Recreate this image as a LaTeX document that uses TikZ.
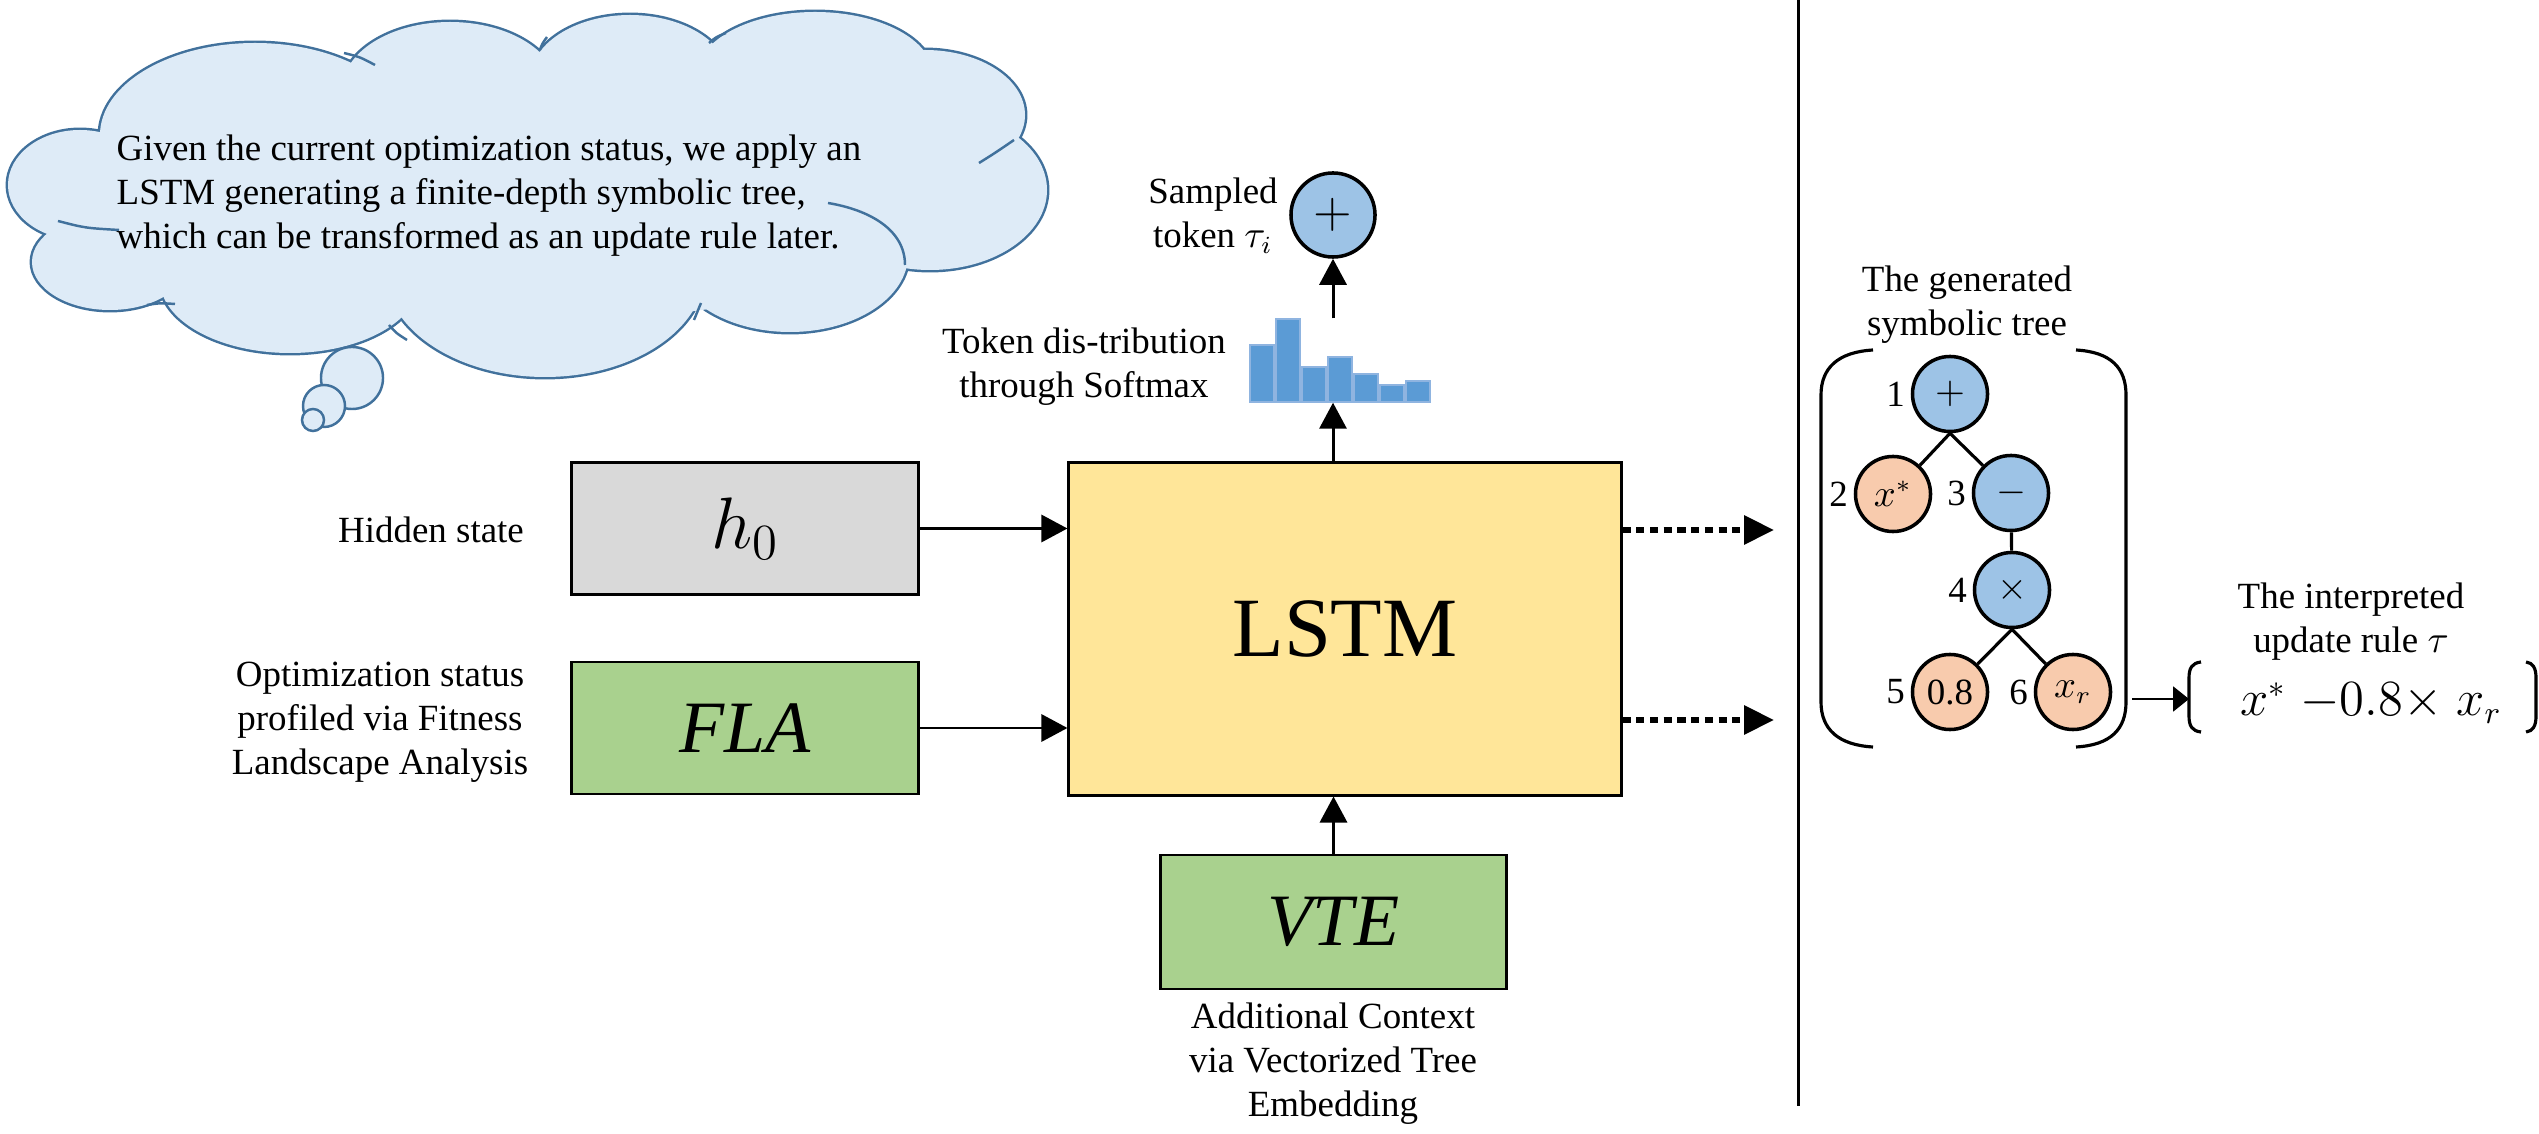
\documentclass[tikz,border=0pt]{standalone}
\usepackage{fontspec}
\setmainfont{Liberation Serif}
\usetikzlibrary{arrows.meta,calc}
\definecolor{cloudfill}{HTML}{DEEBF7}
\definecolor{cloudline}{HTML}{41719C}
\definecolor{grayfill}{HTML}{D9D9D9}
\definecolor{greenfill}{HTML}{A9D18E}
\definecolor{yellowfill}{HTML}{FFE699}
\definecolor{bluenode}{HTML}{9DC3E6}
\definecolor{orangenode}{HTML}{F8CBAD}
\definecolor{barfill}{HTML}{5B9BD5}
\definecolor{barline}{HTML}{8FB4E0}
\begin{document}
\begin{tikzpicture}[x=0.01cm,y=-0.01cm,
  lbl/.style={font=\fontsize{10.5pt}{12.5pt}\selectfont, align=center, inner sep=0},
  box/.style={draw=black, line width=0.8pt, inner sep=0, minimum width=3.46cm, minimum height=1.32cm},
  arr/.style={line width=0.85pt, -{Triangle[length=7.4pt,width=7.7pt]}},
  smallarr/.style={line width=0.85pt, -{Triangle[length=4.5pt,width=7pt]}},
  darr/.style={line width=1.5pt, dash pattern=on 2.3pt off 1.6pt, -{Triangle[length=8.5pt,width=8pt]}},
  tnode/.style={circle, draw=black, line width=1pt, minimum size=0.75cm, inner sep=0, font=\fontsize{10.5pt}{12pt}\selectfont},
  tblue/.style={tnode, fill=bluenode},
  torange/.style={tnode, fill=orangenode},
  nlab/.style={label={[lbl,label distance=1.5pt]left:#1}},
  paren/.style={line width=0.9pt},
  stub/.style={draw=cloudline, line width=0.7pt},
  bubble/.style={circle, draw=cloudline, fill=cloudfill, line width=0.7pt, inner sep=0}
]
\useasboundingbox (0,0) rectangle (2539,1134);

% thought cloud: union of puffs (thick outline, then fill on top)
\def\puffs{80/185/72/55, 110/262/78/48, 290/280/130/73, 545/270/160/107, 790/255/118/77,
  930/190/117/80, 925/115/100/65, 815/75/118/63, 630/80/100/65, 450/90/108/68, 255/135/155/92}
\foreach \px/\py/\rx/\ry in \puffs{
  \draw[cloudline, line width=1.4pt] (\px,\py) ellipse [x radius=\rx, y radius=\ry];
}
\foreach \px/\py/\rx/\ry in \puffs{
  \fill[cloudfill] (\px,\py) ellipse [x radius=\rx, y radius=\ry];
}
\fill[cloudfill] (540,190) ellipse [x radius=420, y radius=130];
\draw[stub] (58,221) .. controls (85,228) .. (119,230);
\draw[stub] (147,305) .. controls (160,303) .. (175,304);
\draw[stub] (389,325) .. controls (396,333) .. (407,340);
\draw[stub] (694,320) .. controls (698,312) .. (701,303);
\draw[stub] (905,265) .. controls (905,230) and (870,210) .. (828,203);
\draw[stub] (979,163) .. controls (995,153) .. (1014,140);
\draw[stub] (344,53) .. controls (360,57) .. (375,65);
\draw[stub] (540,50) .. controls (542,44) .. (547,37);
\draw[stub] (709,43) .. controls (716,37) .. (726,33);
\coordinate (cloud) at (540,190);
\node[bubble, minimum size=0.62cm] (b1) at (352,378) {};
\node[bubble, minimum size=0.42cm] (b2) at (324,406) {};
\node[bubble, minimum size=0.22cm] (b3) at (313,420) {};
\node[lbl, align=left, anchor=west] (ctext) at (116,196) {Given the current optimization status, we apply an\\LSTM generating a finite-depth symbolic tree,\\which can be transformed as an update rule later.};

% main boxes
\node[box, fill=grayfill] (h0) at (745,528.5) {\fontsize{22pt}{24pt}\selectfont $h_0$};
\node[box, fill=greenfill] (fla) at (745,728) {\fontsize{21pt}{24pt}\selectfont\itshape FLA};
\node[draw=black, line width=0.8pt, fill=yellowfill, minimum width=5.52cm, minimum height=3.32cm, inner sep=0,
      font=\fontsize{24pt}{28pt}\selectfont] (lstm) at (1345,629) {LSTM};
\node[box, fill=greenfill, minimum height=1.34cm] (vte) at (1333.5,922) {\fontsize{21pt}{24pt}\selectfont\itshape VTE};

% labels
\node[lbl] (hid) at (431,530) {Hidden state};
\node[lbl] (opt) at (380,722) {Optimization status\\profiled via Fitness\\Landscape Analysis};
\node[lbl, anchor=north] (add) at (1333,1002) {Additional Context\\via Vectorized Tree\\Embedding};
\node[lbl] (samp) at (1213,216) {Sampled\\token $\tau_i$};
\node[lbl] (tdist) at (1084,367) {Token dis-tribution\\through Softmax};

% arrows into LSTM
\draw[arr] (h0.east) -- (h0.east -| lstm.west);
\draw[arr] (fla.east) -- (fla.east -| lstm.west);
\draw[arr] (vte.north) -- (vte.north |- lstm.south);

% dotted outputs
\coordinate (d1) at (1774,530);
\coordinate (d2) at (1774,720);
\draw[darr] (lstm.east |- d1) -- (d1);
\draw[darr] (lstm.east |- d2) -- (d2);

% histogram
\node[inner sep=0, minimum width=1.82cm, minimum height=0.83cm] (hist) at (1340,360.5) {};
\foreach \i/\t in {0/345,1/319,2/367,3/357,4/374,5/385,6/381}{
  \draw[fill=barfill, draw=barline, line width=0.6pt] ({1250+26*\i},402) rectangle ({1274+26*\i},\t);
}
\node[circle, draw=black, line width=1pt, fill=bluenode, minimum size=0.84cm, inner sep=0,
      font=\fontsize{14pt}{14pt}\selectfont] (tok) at (1333,215) {$+$};
\draw[arr] (lstm.north -| tok) -- (hist.south -| tok);
\draw[arr] (hist.north -| tok) -- (tok.south);

% separator
\coordinate (vt) at (1798,0);
\coordinate (vb) at (1798,1106);
\draw[line width=0.85pt] (vt) -- (vb);

% tree
\node[lbl] (gen) at (1967,305) {The generated\\symbolic tree};
\node[tblue, nlab=1] (n1) at (1950,394) {$+$};
\node[torange, nlab=2] (n2) at (1893,494) {$x^{*}$};
\node[tblue, nlab=3] (n3) at (2011,493) {$-$};
\node[tblue, nlab=4] (n4) at (2012,590) {$\times$};
\node[torange, nlab=5] (n5) at (1950,692) {0.8};
\node[torange, nlab=6] (n6) at (2073,692) {$x_r$};
\draw[line width=0.9pt] (n1.south) -- (n2);
\draw[line width=0.9pt] (n1.south) -- (n3);
\draw[line width=0.9pt] (n3) -- (n4);
\draw[line width=0.9pt] (n4.south) -- (n5);
\draw[line width=0.9pt] (n4.south) -- (n6);

% parentheses around tree
\draw[paren] (1873,350) .. controls (1838,352) and (1821,368) .. (1821,395) -- (1821,702) .. controls (1821,729) and (1838,745) .. (1873,747);
\draw[paren] (2076,350) .. controls (2111,352) and (2126,368) .. (2126,395) -- (2126,702) .. controls (2126,729) and (2111,745) .. (2076,747);

% interpreted rule
\node[lbl] (interp) at (2351,622) {The interpreted\\update rule $\tau$};
\node[font=\fontsize{13.5pt}{16pt}\selectfont, inner sep=0] (rule) at (2371,703) {$x^{*}\;{-}0.8{\times}\;x_r$};
\draw[paren] (2201,662) .. controls (2192,663) and (2189,668) .. (2189,678) -- (2189,716) .. controls (2189,726) and (2192,731) .. (2201,732);
\draw[paren] (2526,662) .. controls (2533,663) and (2536,668) .. (2536,678) -- (2536,716) .. controls (2536,726) and (2533,731) .. (2526,732);
\coordinate (pr) at (2132,699);
\coordinate (bl) at (2189,699);
\draw[smallarr] (pr) -- (bl);
\end{tikzpicture}
\end{document}
